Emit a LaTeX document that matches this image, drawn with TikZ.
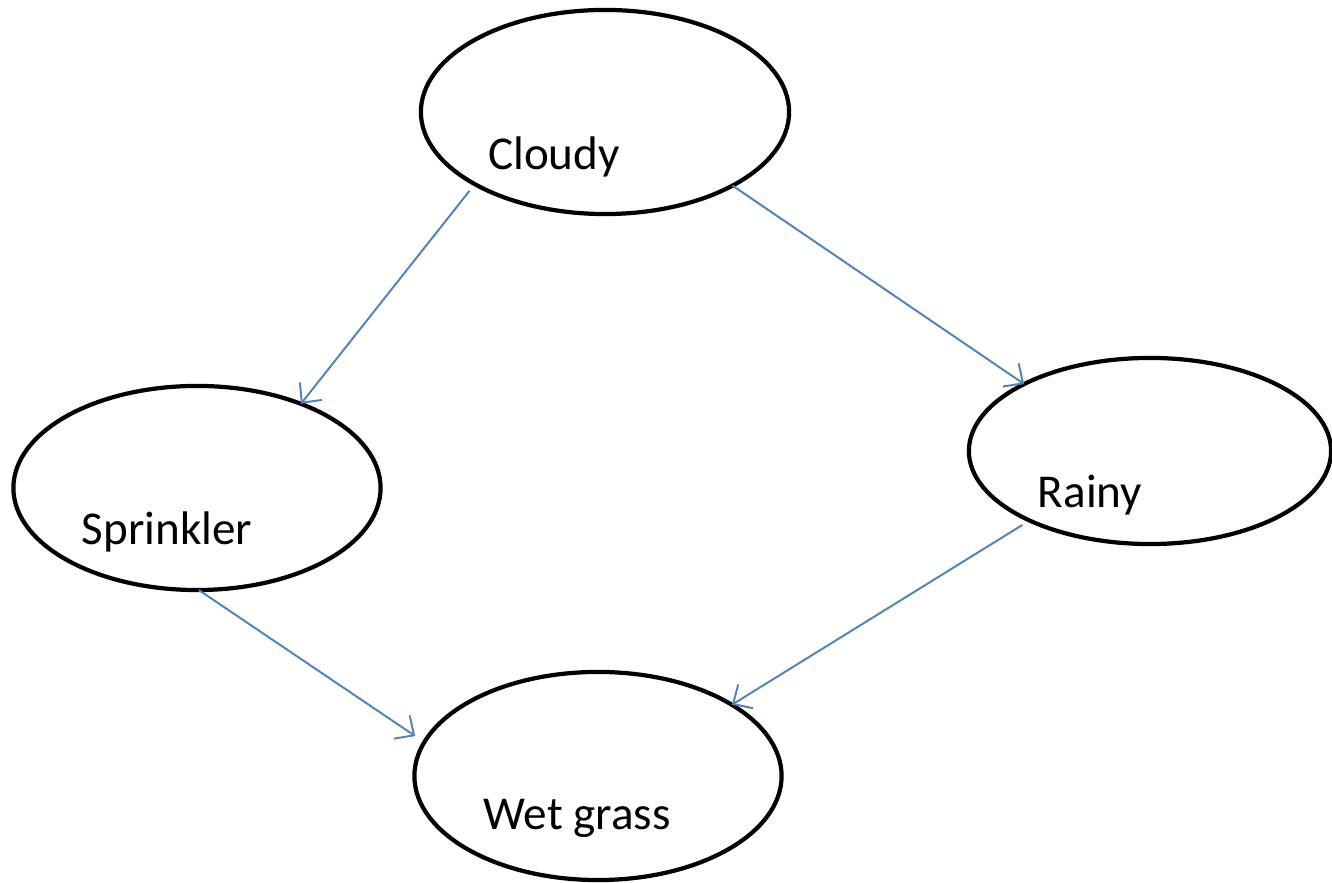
\documentclass[tikz,border=0pt]{standalone}
\usepackage{fontspec}
\setmainfont{Carlito}
\usetikzlibrary{shapes.geometric,arrows.meta}
\definecolor{arrowblue}{HTML}{4F81BD}
\tikzset{
  ell/.style={ellipse, draw=black, line width=1.2pt, inner sep=0pt, outer sep=0pt},
  lbl/.style={anchor=base, inner sep=0pt, font=\fontsize{13.4pt}{16pt}\selectfont},
  conn/.style={draw=arrowblue, line width=0.55pt, -{Straight Barb[length=4.2pt, width=8pt, line width=0.55pt]}}
}
\begin{document}
\begin{tikzpicture}[x=0.01cm, y=-0.01cm]
\useasboundingbox (0,0) rectangle (1332,883);
\node[ell, minimum width=3.68cm, minimum height=2.04cm] (cloudy) at (605,112) {};
\node[ell, minimum width=3.67cm, minimum height=2.04cm] (sprinkler) at (197,488) {};
\node[ell, minimum width=3.62cm, minimum height=1.86cm] (rainy) at (1150,451) {};
\node[ell, minimum width=3.67cm, minimum height=2.08cm] (wet) at (598,776) {};
\node[lbl] (tc) at (554,170) {Cloudy};
\node[lbl] (ts) at (167,545) {Sprinkler};
\node[lbl] (tr) at (1090,508) {Rainy};
\node[lbl] (tw) at (577,830) {Wet grass};
\draw[conn, shorten <=0.085cm] (cloudy.209.1) -- (sprinkler.39.7);
\draw[conn] (cloudy.-30) -- (rainy.152.2);
\draw[conn, shorten >=0.11cm] (sprinkler.-89) -- (wet.169.5);
\draw[conn, shorten <=0.085cm] (rainy.210.5) -- (wet.28.8);
\end{tikzpicture}
\end{document}
